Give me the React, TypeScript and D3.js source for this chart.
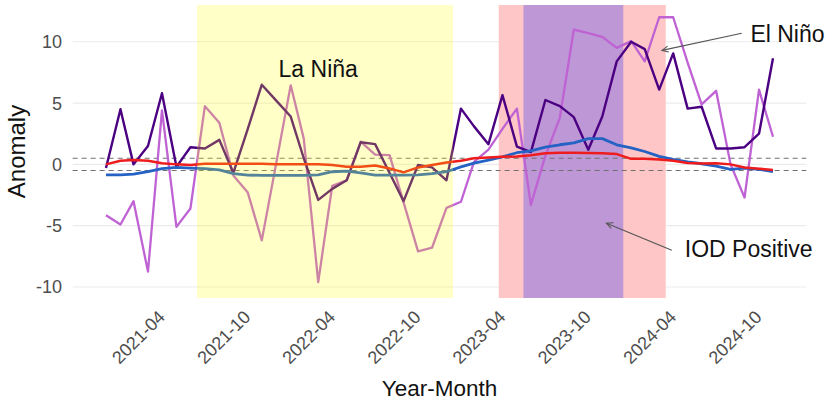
import React from "react";
import * as d3 from "d3";

const months = d3.timeMonth.range(new Date(2021, 0, 1), new Date(2025, 0, 1));

// dark purple series
const indexA = [
  -0.3, 4.5, 0.0, 1.5, 5.8, -0.2, 1.4, 1.3, 2.0, -0.7,
  2.9, 6.5, 5.2, 3.9, 0.5, -2.9, -2.0, -1.3, 1.8, 1.65,
  -0.7, -3.0, -0.05, -0.25, -1.3, 4.55, 3.1, 1.65, 5.65, 1.45,
  1.0, 5.25, 4.75, 3.85, 1.2, 3.9, 8.4, 10.0, 9.4, 6.1,
  9.05, 4.55, 4.7, 1.3, 1.3, 1.4, 2.5, 8.65,
];
// orchid series
const indexB = [
  -4.15, -4.9, -3.0, -8.75, 4.4, -5.1, -3.6, 4.75, 3.4, -0.9,
  -2.3, -6.2, 0.1, 6.45, 2.1, -9.6, -1.75, -1.3, 1.85, 0.8,
  0.75, -3.1, -7.1, -6.8, -3.55, -3.05, 0.2, 1.2, 2.9, 4.55,
  -3.3, 0.7, 3.8, 11.0, 10.7, 10.4, 9.5, 10.05, 8.4, 12.0,
  12.0, 8.3, 4.9, 6.0, 0.0, -2.7, 6.1, 2.25,
];
// red series
const indexC = [
  0.0, 0.3, 0.35, 0.3, 0.1, 0.0, -0.05, 0.05, 0.05, 0.05,
  0.05, 0.05, 0.0, 0.0, 0.0, 0.0, -0.05, -0.2, -0.2, -0.1,
  -0.33, -0.65, -0.25, -0.05, 0.15, 0.3, 0.5, 0.57, 0.62, 0.65,
  0.75, 0.9, 0.95, 0.95, 0.92, 0.9, 0.84, 0.45, 0.45, 0.4,
  0.3, 0.12, 0.08, 0.1, 0.0, -0.25, -0.35, -0.45,
];
// blue series
const indexD = [
  -0.85, -0.85, -0.8, -0.6, -0.35, -0.25, -0.3, -0.35, -0.45, -0.75,
  -0.87, -0.9, -0.9, -0.9, -0.9, -0.85, -0.6, -0.55, -0.7, -0.87,
  -0.87, -0.87, -0.85, -0.75, -0.6, -0.2, 0.1, 0.35, 0.62, 0.95,
  1.1, 1.4, 1.6, 1.75, 2.1, 2.1, 1.6, 1.35, 1.05, 0.65,
  0.4, 0.2, 0.05, -0.15, -0.4, -0.3, -0.4, -0.6,
];

const series = [
  { values: indexB, color: "#BF62D3", width: 2.3 },
  { values: indexA, color: "#4B0082", width: 2.4 },
  { values: indexD, color: "#2462C4", width: 2.8 },
  { values: indexC, color: "#EE1C1C", width: 2.5 },
];

const yTicks = [-10, -5, 0, 5, 10];
const thresholds = [0.5, -0.5];
const xTicks = ["2021-04", "2021-10", "2022-04", "2022-10", "2023-04", "2023-10", "2024-04", "2024-10"];

const bands = [
  { start: "2023-04-23", end: "2024-04-15", fill: "#FEC6C6", opacity: 1 },
  { start: "2023-06-15", end: "2024-01-15", fill: "#BE97D6", opacity: 1 },
];
const overBand = { start: "2021-07-15", end: "2023-01-15", fill: "#FFFF00", opacity: 0.22 };

const labels = [
  { text: "La Niña", date: "2022-04-01", value: 7.75 },
  { text: "El Niño", date: "2025-01-01", value: 10.6 },
  { text: "IOD Positive", date: "2024-10-10", value: -6.9 },
];
const arrows = [
  { from: ["2024-09-25", 10.7], to: ["2024-04-07", 9.3] },
  { from: ["2024-04-28", -7.0], to: ["2023-12-10", -4.8] },
];

const font = "'Liberation Sans', Arial, sans-serif";
const parse = (s: string) => new Date(s + "T00:00:00");

export default function App() {
  const x = d3.scaleTime().domain([months[0], months[months.length - 1]]).range([106, 773]);
  const y = d3.scaleLinear().domain([-10.9, 13]).range([298, 5]);
  const [r0, r1] = x.range();
  const pad = (r1 - r0) * 0.05;
  const left = r0 - pad;
  const right = r1 + pad;
  const [top, bottom] = [y(13), y(-10.9)];

  const line = d3
    .line<number>()
    .x((_, i) => x(months[i]))
    .y((d) => y(d));

  const bandRect = (b: typeof overBand, k: string) => (
    <rect
      key={k}
      x={x(parse(b.start))}
      width={x(parse(b.end)) - x(parse(b.start))}
      y={top}
      height={bottom - top}
      fill={b.fill}
      fillOpacity={b.opacity}
    />
  );

  const head = (x1: number, y1: number, x2: number, y2: number) => {
    const a = Math.atan2(y2 - y1, x2 - x1);
    const L = 7;
    const s = Math.PI / 7;
    return `M${x2 - L * Math.cos(a - s)},${y2 - L * Math.sin(a - s)}L${x2},${y2}L${x2 - L * Math.cos(a + s)},${y2 - L * Math.sin(a + s)}`;
  };

  return (
    <svg width={832} height={407} style={{ position: "absolute", left: 0, top: 0, background: "#fff" }} fontFamily={font}>
      {yTicks.map((t) => (
        <line key={t} x1={left} x2={right} y1={y(t)} y2={y(t)} stroke="#EBEBEB" strokeWidth={1.1} />
      ))}
      {bands.map((b, i) => bandRect(b, "b" + i))}
      {thresholds.map((t) => (
        <line key={t} x1={left} x2={right} y1={y(t)} y2={y(t)} stroke="#707070" strokeWidth={1.2} strokeDasharray="5,4" />
      ))}
      {series.map((s, i) => (
        <path key={i} d={line(s.values) || ""} fill="none" stroke={s.color} strokeWidth={s.width} strokeLinejoin="round" />
      ))}
      {bandRect(overBand, "over")}
      {yTicks.map((t) => (
        <text key={t} x={62} y={y(t)} dy="0.36em" textAnchor="end" fontSize={18} fill="#4D4D4D">
          {t}
        </text>
      ))}
      {xTicks.map((t) => {
        const px = x(parse(t + "-01"));
        return (
          <text
            key={t}
            transform={`translate(${px + 9},${309}) rotate(-45)`}
            dy="0.72em"
            textAnchor="end"
            fontSize={18}
            fill="#4D4D4D"
          >
            {t}
          </text>
        );
      })}
      <text x={(left + right) / 2} y={396} textAnchor="middle" fontSize={22.5} fill="#111">
        Year-Month
      </text>
      <text transform={`translate(25,${(top + bottom) / 2}) rotate(-90)`} textAnchor="middle" fontSize={24} fill="#111">
        Anomaly
      </text>
      {labels.map((l) => (
        <text key={l.text} x={x(parse(l.date))} y={y(l.value)} dy="0.35em" textAnchor="middle" fontSize={23} fill="#111">
          {l.text}
        </text>
      ))}
      {arrows.map((a, i) => {
        const x1 = x(parse(a.from[0] as string));
        const y1 = y(a.from[1] as number);
        const x2 = x(parse(a.to[0] as string));
        const y2 = y(a.to[1] as number);
        return (
          <g key={i} stroke="#555" strokeWidth={1.1} fill="none">
            <line x1={x1} y1={y1} x2={x2} y2={y2} />
            <path d={head(x1, y1, x2, y2)} />
          </g>
        );
      })}
    </svg>
  );
}
